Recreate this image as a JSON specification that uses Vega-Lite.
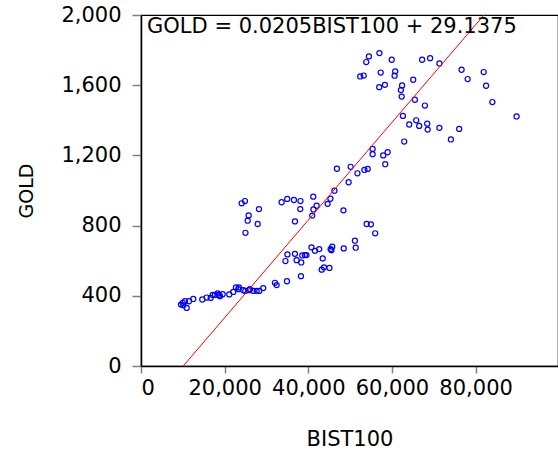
{
  "$schema": "https://vega.github.io/schema/vega-lite/v6.json",
  "width": 417,
  "height": 351,
  "autosize": {"type": "none"},
  "padding": {"left": 141, "top": 15, "right": 0, "bottom": 85},
  "background": "white",
  "config": {
    "view": {"stroke": "black", "strokeWidth": 1.2},
    "axis": {
      "grid": false,
      "domainColor": "black",
      "domainWidth": 1.5,
      "tickColor": "#808080",
      "tickWidth": 1.5,
      "labelFont": "DejaVu Sans",
      "labelFontSize": 21,
      "labelColor": "black",
      "titleFont": "DejaVu Sans",
      "titleFontWeight": "normal",
      "titleColor": "black"
    }
  },
  "datasets": {
    "points": [
      {"BIST100": 9560, "GOLD": 350}, {"BIST100": 9966, "GOLD": 360}, {"BIST100": 10516, "GOLD": 369},
      {"BIST100": 10922, "GOLD": 331}, {"BIST100": 11472, "GOLD": 369}, {"BIST100": 10110, "GOLD": 346},
      {"BIST100": 12500, "GOLD": 382}, {"BIST100": 14651, "GOLD": 379}, {"BIST100": 15702, "GOLD": 390},
      {"BIST100": 16658, "GOLD": 388}, {"BIST100": 17136, "GOLD": 405}, {"BIST100": 17686, "GOLD": 405},
      {"BIST100": 18331, "GOLD": 413}, {"BIST100": 18642, "GOLD": 405}, {"BIST100": 18881, "GOLD": 398},
      {"BIST100": 19526, "GOLD": 409}, {"BIST100": 21104, "GOLD": 408}, {"BIST100": 22060, "GOLD": 422},
      {"BIST100": 22705, "GOLD": 448}, {"BIST100": 23422, "GOLD": 448}, {"BIST100": 23255, "GOLD": 438},
      {"BIST100": 24450, "GOLD": 432}, {"BIST100": 24928, "GOLD": 428}, {"BIST100": 25812, "GOLD": 432},
      {"BIST100": 26051, "GOLD": 438}, {"BIST100": 26840, "GOLD": 428}, {"BIST100": 27652, "GOLD": 428},
      {"BIST100": 28274, "GOLD": 428}, {"BIST100": 29230, "GOLD": 444}, {"BIST100": 32026, "GOLD": 474},
      {"BIST100": 32432, "GOLD": 461}, {"BIST100": 34894, "GOLD": 483}, {"BIST100": 38240, "GOLD": 512},
      {"BIST100": 24067, "GOLD": 927}, {"BIST100": 24856, "GOLD": 940}, {"BIST100": 25740, "GOLD": 858},
      {"BIST100": 25501, "GOLD": 828}, {"BIST100": 27891, "GOLD": 809}, {"BIST100": 28202, "GOLD": 894},
      {"BIST100": 24976, "GOLD": 759}, {"BIST100": 33627, "GOLD": 933}, {"BIST100": 34966, "GOLD": 952},
      {"BIST100": 36567, "GOLD": 946}, {"BIST100": 38121, "GOLD": 940}, {"BIST100": 38073, "GOLD": 894},
      {"BIST100": 36806, "GOLD": 824}, {"BIST100": 41180, "GOLD": 965}, {"BIST100": 41992, "GOLD": 913},
      {"BIST100": 41228, "GOLD": 892}, {"BIST100": 40941, "GOLD": 857}, {"BIST100": 44621, "GOLD": 924},
      {"BIST100": 45291, "GOLD": 953}, {"BIST100": 46247, "GOLD": 999}, {"BIST100": 48398, "GOLD": 887},
      {"BIST100": 49640, "GOLD": 1047}, {"BIST100": 35014, "GOLD": 636}, {"BIST100": 36806, "GOLD": 639},
      {"BIST100": 34536, "GOLD": 598}, {"BIST100": 37212, "GOLD": 603}, {"BIST100": 38312, "GOLD": 590},
      {"BIST100": 38551, "GOLD": 630}, {"BIST100": 39196, "GOLD": 632}, {"BIST100": 39555, "GOLD": 632},
      {"BIST100": 40750, "GOLD": 676}, {"BIST100": 41586, "GOLD": 656}, {"BIST100": 42614, "GOLD": 666},
      {"BIST100": 43450, "GOLD": 613}, {"BIST100": 43211, "GOLD": 549}, {"BIST100": 43737, "GOLD": 562},
      {"BIST100": 45052, "GOLD": 559}, {"BIST100": 45338, "GOLD": 666}, {"BIST100": 45721, "GOLD": 680},
      {"BIST100": 45530, "GOLD": 660}, {"BIST100": 48469, "GOLD": 670}, {"BIST100": 51146, "GOLD": 714},
      {"BIST100": 51337, "GOLD": 674}, {"BIST100": 46844, "GOLD": 1124}, {"BIST100": 50118, "GOLD": 1135},
      {"BIST100": 51744, "GOLD": 1098}, {"BIST100": 53417, "GOLD": 1117}, {"BIST100": 54205, "GOLD": 1123},
      {"BIST100": 55376, "GOLD": 1237}, {"BIST100": 55376, "GOLD": 1207}, {"BIST100": 57910, "GOLD": 1200},
      {"BIST100": 58961, "GOLD": 1218}, {"BIST100": 58388, "GOLD": 1150}, {"BIST100": 62929, "GOLD": 1279},
      {"BIST100": 53942, "GOLD": 809}, {"BIST100": 54970, "GOLD": 807}, {"BIST100": 55998, "GOLD": 756},
      {"BIST100": 62618, "GOLD": 1425}, {"BIST100": 65797, "GOLD": 1400}, {"BIST100": 64124, "GOLD": 1376},
      {"BIST100": 66514, "GOLD": 1368}, {"BIST100": 68426, "GOLD": 1381}, {"BIST100": 68545, "GOLD": 1347},
      {"BIST100": 71342, "GOLD": 1357}, {"BIST100": 65486, "GOLD": 1517}, {"BIST100": 67876, "GOLD": 1484},
      {"BIST100": 56954, "GOLD": 1589}, {"BIST100": 58316, "GOLD": 1602}, {"BIST100": 62427, "GOLD": 1599},
      {"BIST100": 62140, "GOLD": 1572}, {"BIST100": 62331, "GOLD": 1535}, {"BIST100": 65080, "GOLD": 1631},
      {"BIST100": 52413, "GOLD": 1650}, {"BIST100": 53249, "GOLD": 1655}, {"BIST100": 57312, "GOLD": 1672},
      {"BIST100": 60778, "GOLD": 1679}, {"BIST100": 60634, "GOLD": 1654}, {"BIST100": 54492, "GOLD": 1764},
      {"BIST100": 53847, "GOLD": 1732}, {"BIST100": 57002, "GOLD": 1783}, {"BIST100": 59941, "GOLD": 1745},
      {"BIST100": 67207, "GOLD": 1745}, {"BIST100": 69119, "GOLD": 1754}, {"BIST100": 71342, "GOLD": 1724},
      {"BIST100": 76647, "GOLD": 1688}, {"BIST100": 81929, "GOLD": 1675}, {"BIST100": 78105, "GOLD": 1635},
      {"BIST100": 82503, "GOLD": 1597}, {"BIST100": 84009, "GOLD": 1504}, {"BIST100": 89792, "GOLD": 1422},
      {"BIST100": 76074, "GOLD": 1351}, {"BIST100": 74090, "GOLD": 1291}
    ],
    "fit": [
      {"BIST100": 10100, "GOLD": 0},
      {"BIST100": 82000, "GOLD": 2000}
    ],
    "eq": [
      {"BIST100": 1450, "GOLD": 1897, "label": "GOLD = 0.0205BIST100 + 29.1375"}
    ]
  },
  "layer": [
    {
      "data": {"name": "points"},
      "mark": {"type": "point", "shape": "circle", "filled": false, "color": "#0000FF", "size": 26, "strokeWidth": 1.2, "opacity": 1},
      "encoding": {
        "x": {
          "field": "BIST100", "type": "quantitative",
          "scale": {"domain": [0, 99700], "nice": false, "zero": false},
          "axis": {"values": [0, 20000, 40000, 60000, 80000], "format": ",d", "tickSize": 7, "labelPadding": 4, "title": "BIST100", "titleFontSize": 21, "titlePadding": 30}
        },
        "y": {
          "field": "GOLD", "type": "quantitative",
          "scale": {"domain": [0, 2000], "nice": false, "zero": false},
          "axis": {"values": [0, 400, 800, 1200, 1600, 2000], "format": ",d", "tickSize": 9, "labelPadding": 11, "title": "GOLD", "titleFontSize": 19, "titlePadding": 24}
        }
      }
    },
    {
      "data": {"name": "fit"},
      "mark": {"type": "line", "color": "#FF0000", "strokeWidth": 1, "clip": true},
      "encoding": {
        "x": {"field": "BIST100", "type": "quantitative"},
        "y": {"field": "GOLD", "type": "quantitative"}
      }
    },
    {
      "data": {"name": "eq"},
      "mark": {"type": "text", "align": "left", "baseline": "alphabetic", "font": "DejaVu Sans", "fontSize": 21, "color": "black"},
      "encoding": {
        "x": {"field": "BIST100", "type": "quantitative"},
        "y": {"field": "GOLD", "type": "quantitative"},
        "text": {"field": "label"}
      }
    }
  ]
}
